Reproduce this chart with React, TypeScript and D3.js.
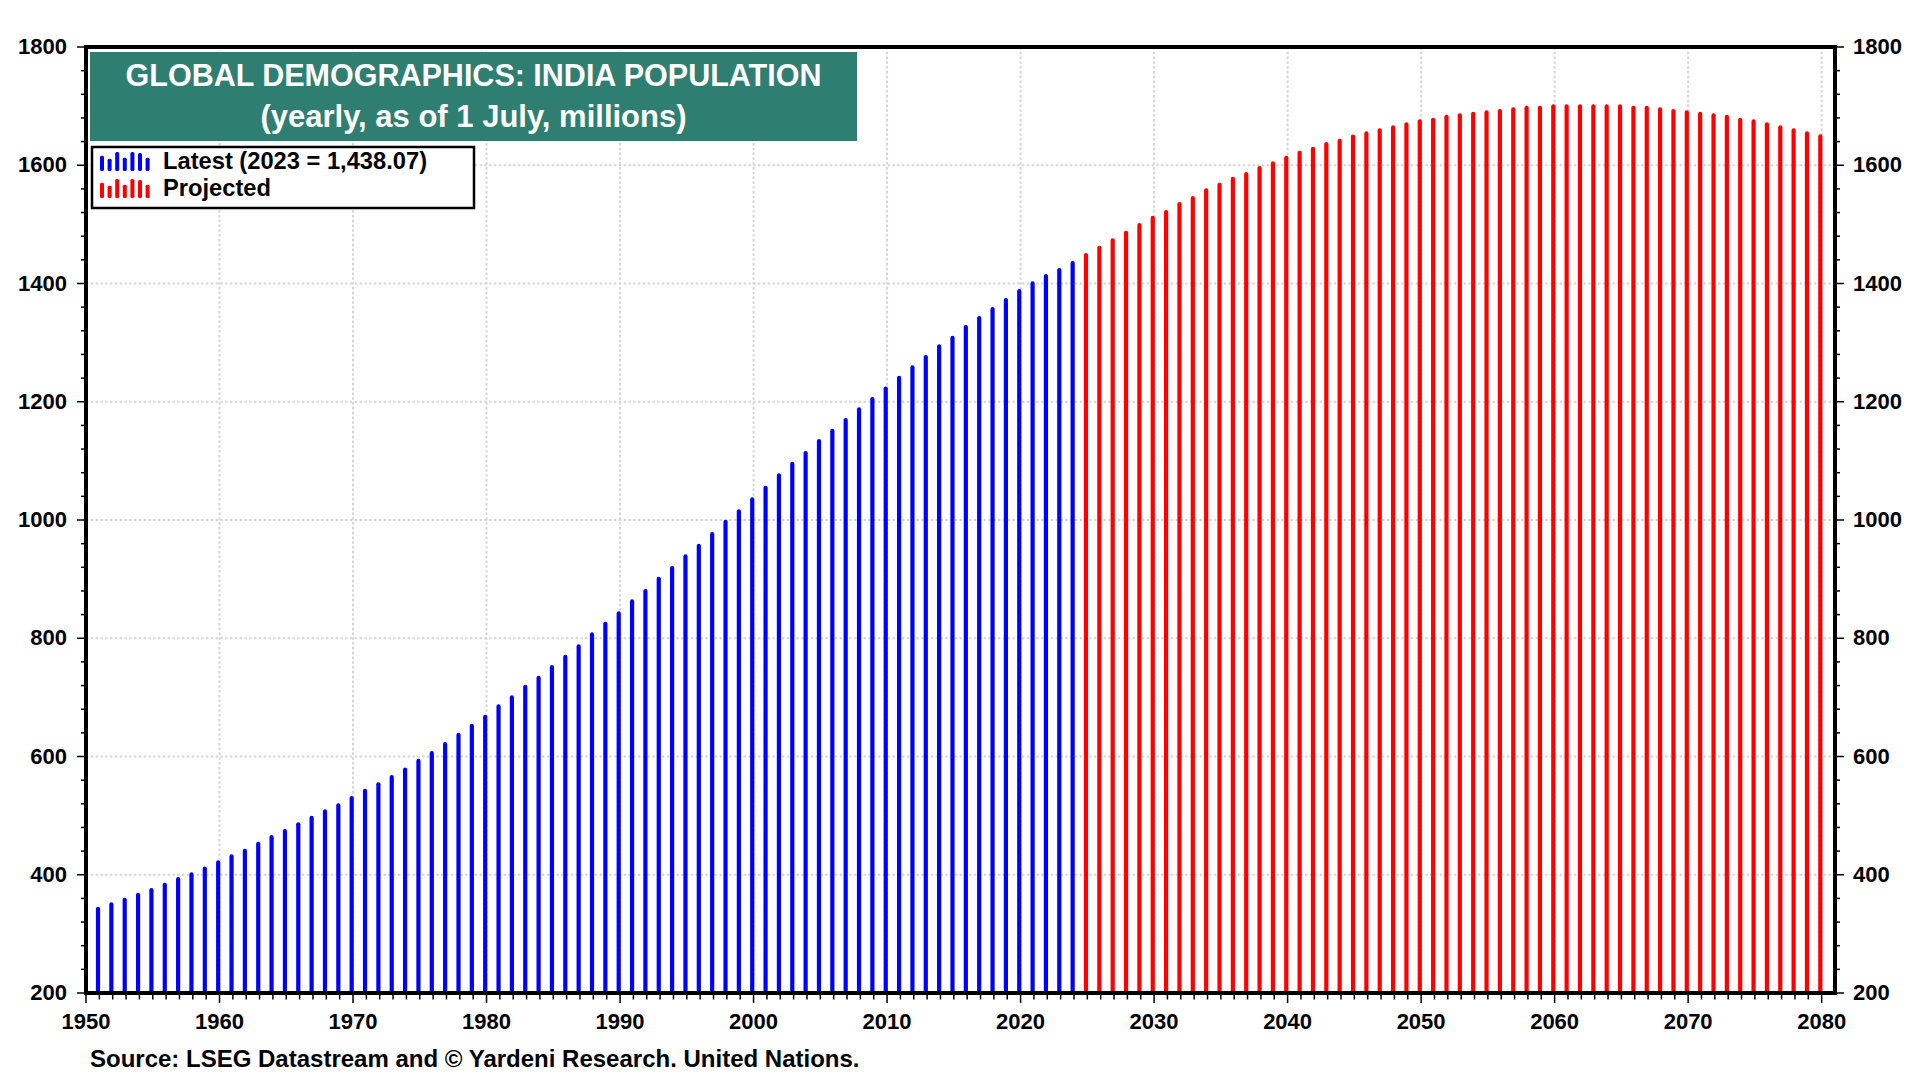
import React from 'react';
import * as d3 from 'd3';

// India population, millions (UN, yearly as of 1 July)
const latestStartYear = 1950;
const latestValues = [
    346.0, 353.4, 361.2, 369.5, 377.5, 386.6, 396.0, 404.1, 414.0, 424.4,
    434.5, 444.1, 456.0, 467.2, 477.4, 489.0, 499.9, 510.7, 521.0, 533.2,
    545.6, 556.5, 568.7, 581.5, 596.0, 609.3, 624.5, 640.3, 655.5, 670.5,
    688.2, 703.4, 721.5, 736.7, 754.8, 772.2, 789.7, 810.0, 828.1, 845.5,
    865.8, 883.3, 904.2, 922.2, 941.9, 960.0, 979.7, 1000.6, 1018.0, 1038.3,
    1058.1, 1078.9, 1098.7, 1116.7, 1137.0, 1154.5, 1172.5, 1190.6, 1208.0, 1225.8,
    1243.8, 1261.6, 1279.1, 1297.1, 1311.8, 1329.8, 1345.0, 1360.3, 1375.5, 1390.7,
    1403.7, 1416.1, 1426.2, 1438.07,
];

const projectedStartYear = 2024;
const projectedValues = [
    1451.6, 1464.0, 1476.4, 1489.4, 1502.3, 1514.7, 1524.3, 1537.8, 1548.0, 1561.0,
    1570.6, 1580.7, 1588.6, 1598.7, 1606.6, 1616.2, 1624.7, 1631.4, 1639.3, 1644.7,
    1652.0, 1657.4, 1662.5, 1667.5, 1672.6, 1677.7, 1680.4, 1685.5, 1687.8, 1690.6,
    1692.9, 1695.1, 1698.0, 1700.7, 1700.7, 1703.1, 1703.1, 1703.0, 1703.0, 1703.0,
    1703.0, 1700.7, 1700.7, 1698.0, 1695.1, 1692.9, 1690.6, 1687.8, 1685.5, 1680.4,
    1677.7, 1672.6, 1667.5, 1662.5, 1657.4, 1652.3,
];

const yTicks = [200, 400, 600, 800, 1000, 1200, 1400, 1600, 1800];
const xTicks = [1950, 1960, 1970, 1980, 1990, 2000, 2010, 2020, 2030, 2040, 2050, 2060, 2070, 2080];

const titleLines = ['GLOBAL DEMOGRAPHICS: INDIA POPULATION', '(yearly, as of 1 July, millions)'];
const legendLabels = ['Latest (2023 = 1,438.07)', 'Projected'];
const sourceText = 'Source: LSEG Datastream and \u00A9 Yardeni Research. United Nations.';

const FONT = '"Liberation Sans", Arial, sans-serif';
const BLUE = '#0000ff';
const RED = '#ff0000';

const App: React.FC = () => {
    const width = 1920;
    const height = 1080;
    const margin = { top: 47, right: 85, bottom: 87, left: 86 };
    const x0 = margin.left;
    const x1 = width - margin.right;
    const y0 = margin.top;
    const y1 = height - margin.bottom;

    const x = d3.scaleLinear().domain([1950, 2081]).range([x0, x1]);
    const y = d3.scaleLinear().domain([200, 1800]).range([y1, y0]);

    const bars = [
        ...latestValues.map((v, i) => ({ year: latestStartYear + i, value: v, color: BLUE })),
        ...projectedValues.map((v, i) => ({ year: projectedStartYear + i, value: v, color: RED })),
    ];

    const minorY = d3.range(200, 1801, 40).filter(v => v % 200 !== 0);
    const minorX = d3.range(1951, 2081).filter(v => v % 10 !== 0);

    // little bar pattern used as legend swatch
    const swatch = [0.8, 0.65, 1, 0.7, 1, 0.95, 0.7];

    return (
        <div style={{ position: 'fixed', left: 0, top: 0, width, height, background: '#fff' }}>
            <svg width={width} height={height} style={{ display: 'block' }} fontFamily={FONT} fontWeight="bold">
                {/* grid */}
                <g stroke="#d4d4d4" strokeWidth={2} strokeDasharray="2.4,2.4">
                    {yTicks.slice(1, -1).map(t => (
                        <line key={'gy' + t} x1={x0} x2={x1} y1={y(t)} y2={y(t)} />
                    ))}
                    {xTicks.slice(1).map(t => (
                        <line key={'gx' + t} x1={x(t)} x2={x(t)} y1={y0} y2={y1} />
                    ))}
                </g>

                {/* bars */}
                <g strokeWidth={4.2} strokeLinecap="round">
                    {bars.map(d => (
                        <line
                            key={d.year}
                            x1={x(d.year + 0.9)}
                            x2={x(d.year + 0.9)}
                            y1={y(200)}
                            y2={y(d.value) + 2.1}
                            stroke={d.color}
                        />
                    ))}
                </g>

                {/* frame */}
                <rect x={x0} y={y0} width={x1 - x0} height={y1 - y0} fill="none" stroke="#000" strokeWidth={4} />

                {/* ticks */}
                <g stroke="#000" strokeWidth={1.5}>
                    {yTicks.map(t => (
                        <g key={'ty' + t}>
                            <line x1={x0 - 9} x2={x0} y1={y(t)} y2={y(t)} />
                            <line x1={x1} x2={x1 + 9} y1={y(t)} y2={y(t)} />
                        </g>
                    ))}
                    {minorY.map(t => (
                        <g key={'my' + t}>
                            <line x1={x0 - 5} x2={x0} y1={y(t)} y2={y(t)} />
                            <line x1={x1} x2={x1 + 5} y1={y(t)} y2={y(t)} />
                        </g>
                    ))}
                    {xTicks.map(t => (
                        <line key={'tx' + t} x1={x(t)} x2={x(t)} y1={y1} y2={y1 + 10} />
                    ))}
                    {minorX.map(t => (
                        <line key={'mx' + t} x1={x(t)} x2={x(t)} y1={y1} y2={y1 + 6.5} />
                    ))}
                </g>

                {/* axis labels */}
                <g fontSize={22} fill="#000">
                    {yTicks.map(t => (
                        <g key={'ly' + t}>
                            <text x={x0 - 19} y={y(t) + 7} textAnchor="end">{t}</text>
                            <text x={x1 + 18} y={y(t) + 7} textAnchor="start">{t}</text>
                        </g>
                    ))}
                    {xTicks.map(t => (
                        <text key={'lx' + t} x={x(t)} y={1029} textAnchor="middle">{t}</text>
                    ))}
                </g>

                {/* title box */}
                <rect x={90} y={52} width={767} height={89} fill="#2f7e72" />
                <g fill="#fff" textAnchor="middle">
                    <text x={473.5} y={86} fontSize={30.5}>{titleLines[0]}</text>
                    <text x={473.5} y={127} fontSize={31}>{titleLines[1]}</text>
                </g>

                {/* legend */}
                <rect x={92} y={147} width={382} height={61} fill="#fff" stroke="#000" strokeWidth={2.5} />
                {[BLUE, RED].map((c, row) => (
                    <g key={'sw' + c}>
                        {swatch.map((h, i) => {
                            const base = row === 0 ? 171 : 198;
                            return (
                                <rect
                                    key={i}
                                    x={100 + i * 7.6}
                                    y={base - 19 * h}
                                    width={4}
                                    height={19 * h}
                                    rx={1.5}
                                    fill={c}
                                />
                            );
                        })}
                        <text x={163} y={row === 0 ? 169 : 196} fontSize={23.7} fill="#000">
                            {legendLabels[row]}
                        </text>
                    </g>
                ))}

                {/* source */}
                <text x={90} y={1067} fontSize={24} fill="#000">{sourceText}</text>
            </svg>
        </div>
    );
};

export default App;
